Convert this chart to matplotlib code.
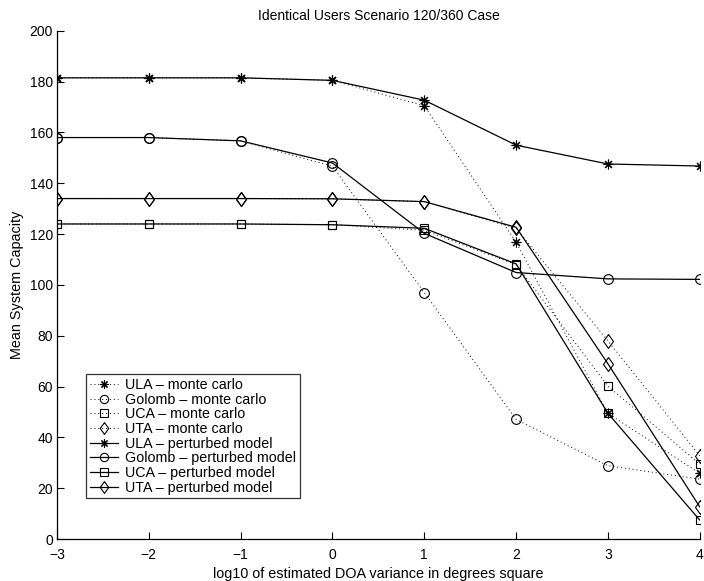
import matplotlib
matplotlib.use("Agg")
import matplotlib.pyplot as plt

plt.rcParams['font.family'] = ['Liberation Sans', 'DejaVu Sans']

# log10 of estimated DOA variance
x = [-3, -2, -1, 0, 1, 2, 3, 4]

# monte carlo runs
ula_mc = [181.5, 181.5, 181.5, 180.5, 170.5, 116.8, 49.5, 25.9]
golomb_mc = [158.0, 158.0, 156.7, 146.7, 97.0, 47.1, 28.9, 23.6]
uca_mc = [124.0, 124.0, 124.0, 123.7, 121.5, 108.0, 60.2, 29.5]
uta_mc = [134.0, 134.0, 134.0, 133.9, 132.8, 122.3, 78.0, 32.8]

# perturbed model
ula_pm = [181.5, 181.5, 181.5, 180.5, 172.7, 155.0, 147.6, 146.8]
golomb_pm = [158.0, 158.0, 156.7, 148.0, 120.3, 104.9, 102.4, 102.2]
uca_pm = [124.0, 124.0, 124.0, 123.7, 122.3, 108.3, 49.5, 7.5]
uta_pm = [134.0, 134.0, 134.0, 133.9, 132.8, 122.7, 69.0, 12.7]

names = ['ULA', 'Golomb', 'UCA', 'UTA']
mc_data = [ula_mc, golomb_mc, uca_mc, uta_mc]
pm_data = [ula_pm, golomb_pm, uca_pm, uta_pm]

diamond = [(0, 1), (0.72, 0), (0, -1), (-0.72, 0), (0, 1)]
markers = [(8, 2, 0), 'o', 's', diamond]
sizes = [7, 7, 6, 10]

fig = plt.figure(figsize=(7.04, 5.81), dpi=100)
ax = fig.add_axes([0.081, 0.072, 0.913, 0.875])

for name, y, m, s in zip(names, mc_data, markers, sizes):
    ax.plot(x, y, color='black', linestyle=(0, (1, 3)), linewidth=0.7,
            marker=m, markersize=s, markerfacecolor='none',
            markeredgecolor='black', markeredgewidth=0.8,
            label=f'{name} \u2013 monte carlo')

for name, y, m, s in zip(names, pm_data, markers, sizes):
    ax.plot(x, y, color='black', linestyle='-', linewidth=0.9,
            marker=m, markersize=s, markerfacecolor='none',
            markeredgecolor='black', markeredgewidth=0.8,
            label=f'{name} \u2013 perturbed model')

ax.set_xlim(-3, 4)
ax.set_ylim(0, 200)
ax.set_xticks(range(-3, 5))
ax.set_yticks(range(0, 201, 20))
ax.set_xticklabels([str(v).replace('-', '\u2212') for v in range(-3, 5)])
ax.tick_params(direction='in', length=5, width=0.8, labelsize=10)
ax.tick_params(axis='x', pad=6)
ax.tick_params(axis='y', pad=3)
ax.spines['top'].set_visible(False)
ax.spines['right'].set_visible(False)
ax.spines['left'].set_linewidth(0.9)
ax.spines['bottom'].set_linewidth(0.9)

ax.set_title('Identical Users Scenario 120/360 Case', fontsize=10, pad=8)
ax.set_xlabel('log10 of estimated DOA variance in degrees square', fontsize=10.4, labelpad=4)
ax.set_ylabel('Mean System Capacity', fontsize=10.4, labelpad=4)

leg = ax.legend(loc='lower left', bbox_to_anchor=(0.045, 0.08), fontsize=10.3,
                frameon=True, fancybox=False, borderpad=0.25, labelspacing=0.05,
                handlelength=2.0, handletextpad=0.5, borderaxespad=0,
                markerscale=0.85)
leg.get_frame().set_edgecolor('black')
leg.get_frame().set_linewidth(0.9)

fig.savefig('out.png', dpi=100)
